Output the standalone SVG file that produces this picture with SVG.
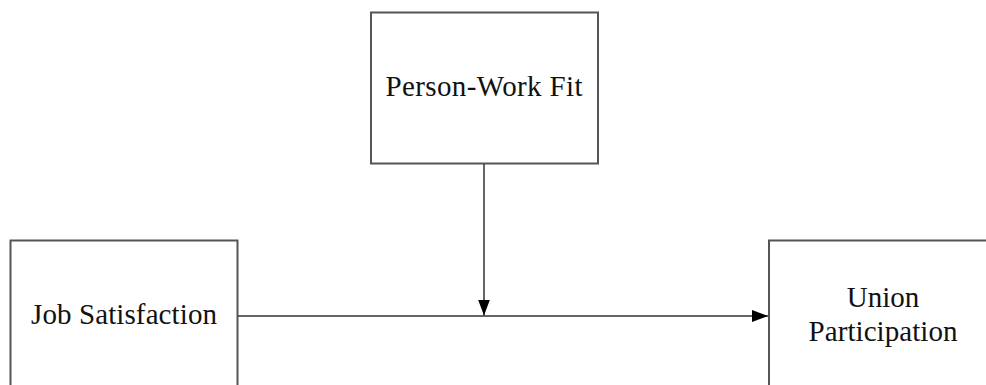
<svg xmlns="http://www.w3.org/2000/svg" width="986" height="385" viewBox="0 0 986 385">
<style>
.box{fill:#fff;stroke:#555;stroke-width:2}
.lbl{font-family:"Liberation Serif","Times New Roman",serif;font-size:29px;fill:#111;text-anchor:middle}
.conn{stroke:#333;stroke-width:1.5;fill:none}
</style>
<defs>
<marker id="arr" viewBox="0 0 16 12" refX="16" refY="6" markerWidth="16" markerHeight="12" markerUnits="userSpaceOnUse" orient="auto">
<path d="M0,0 L16,6 L0,12 Z" fill="#000"/>
</marker>
</defs>
<rect width="986" height="385" fill="#fff"/>
<g id="person-work-fit">
<rect class="box" x="371" y="12.5" width="227" height="151"/>
<text class="lbl" x="484" y="96" textLength="197" lengthAdjust="spacing">Person-Work Fit</text>
</g>
<g id="job-satisfaction">
<rect class="box" x="10.5" y="240.5" width="227" height="152"/>
<text class="lbl" x="124" y="324" textLength="186" lengthAdjust="spacing">Job Satisfaction</text>
</g>
<g id="union-participation">
<rect class="box" x="769" y="240.5" width="228" height="152"/>
<text class="lbl" x="883" y="307">Union</text>
<text class="lbl" x="883" y="341" textLength="149" lengthAdjust="spacing">Participation</text>
</g>
<g id="connectors">
<line class="conn" x1="238" y1="316" x2="768" y2="316" marker-end="url(#arr)"/>
<line class="conn" x1="484" y1="164" x2="484" y2="315.5" marker-end="url(#arr)"/>
</g>
</svg>
